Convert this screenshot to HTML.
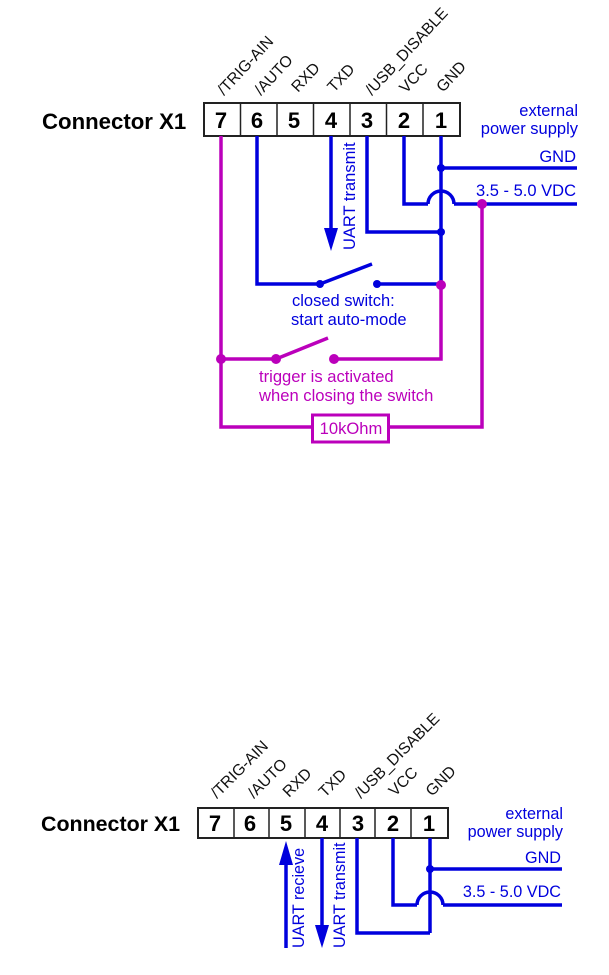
<!DOCTYPE html>
<html><head><meta charset="utf-8"><style>
html,body{margin:0;padding:0;background:#fff;width:609px;height:975px;overflow:hidden}
svg{display:block}
text{font-family:"Liberation Sans",sans-serif}
.b{fill:#0000dd;font-size:16.5px}
.bb{fill:#0000dd;font-size:16.2px}
.m{fill:#bb00bb;font-size:16.6px}
.k{fill:#111;font-size:15.8px}
.d{fill:#000;font-size:22px;font-weight:bold;text-anchor:middle}
.t{fill:#000;font-size:22.2px;font-weight:bold}
.t2{fill:#000;font-size:21.4px;font-weight:bold}
.wb{fill:none;stroke:#0000dd;stroke-width:3.5}
.wm{fill:none;stroke:#bb00bb;stroke-width:3.5}
</style></head><body>
<svg width="609" height="975" viewBox="0 0 609 975" xmlns="http://www.w3.org/2000/svg">
<!-- Top -->
<text class="t" x="42" y="129">Connector X1</text>
<rect x="204" y="103" width="256" height="33" fill="#fff" stroke="#222" stroke-width="2"/>
<path d="M240.500 103V136M277 103V136M313.500 103V136M350 103V136M386.500 103V136M423 103V136" stroke="#222" stroke-width="1.500"/>
<text class="d" x="221" y="128">7</text><text class="d" x="257" y="128">6</text><text class="d" x="294" y="128">5</text><text class="d" x="331" y="128">4</text><text class="d" x="367" y="128">3</text><text class="d" x="404" y="128">2</text><text class="d" x="441" y="128">1</text>
<text class="k" transform="translate(224,96) rotate(-47)">/TRIG-AIN</text>
<text class="k" transform="translate(261,96) rotate(-47)">/AUTO</text>
<text class="k" transform="translate(298,93) rotate(-47)">RXD</text>
<text class="k" transform="translate(334,93) rotate(-47)">TXD</text>
<text class="k" transform="translate(372,96) rotate(-47)">/USB_DISABLE</text>
<text class="k" transform="translate(406,94) rotate(-47)">VCC</text>
<text class="k" transform="translate(443,93) rotate(-47)">GND</text>
<text class="b" x="578" y="116" text-anchor="end">external</text>
<text class="b" x="578" y="134" text-anchor="end">power supply</text>
<text class="b" x="576" y="162" text-anchor="end">GND</text>
<text class="b" x="576" y="196" text-anchor="end">3.5 - 5.0 VDC</text>
<text class="b" transform="translate(355,250) rotate(-90)">UART transmit</text>
<text class="b" x="292" y="306">closed switch:</text>
<text class="b" x="291" y="325">start auto-mode</text>
<text class="m" x="259" y="382">trigger is activated</text>
<text class="m" x="259" y="401">when closing the switch</text>
<path class="wb" d="M441 136V285M441 168H577M257 136V284H320M320 284L372 264M377 284H441M367 136V232H441M404 136V204H428M428 204A13 13 0 0 1 454 204M454 204H577M331 136V232"/>
<path d="M324 228H338L331 251Z" fill="#0000dd"/>
<circle cx="441" cy="168" r="4" fill="#0000dd"/><circle cx="441" cy="232" r="4" fill="#0000dd"/><circle cx="320" cy="284" r="4" fill="#0000dd"/><circle cx="377" cy="284" r="4" fill="#0000dd"/>
<path class="wm" d="M221 136V427H312M389 427H482V204M221 359H276M276 359L328 338M334 359H441V285"/>
<rect x="312.500" y="415" width="76" height="27" fill="#fff" stroke="#bb00bb" stroke-width="3"/>
<text class="m" x="351" y="434" text-anchor="middle">10kOhm</text>
<circle cx="482" cy="204" r="5" fill="#bb00bb"/><circle cx="441" cy="285" r="5" fill="#bb00bb"/><circle cx="221" cy="359" r="5" fill="#bb00bb"/><circle cx="276" cy="359" r="5" fill="#bb00bb"/><circle cx="334" cy="359" r="5" fill="#bb00bb"/>
<!-- Bottom -->
<text class="t2" x="41" y="831">Connector X1</text>
<rect x="198" y="808" width="250" height="30" fill="#fff" stroke="#222" stroke-width="2"/>
<path d="M234 808V838M269 808V838M305 808V838M340 808V838M375 808V838M411 808V838" stroke="#222" stroke-width="1.500"/>
<text class="d" x="215" y="831">7</text><text class="d" x="250" y="831">6</text><text class="d" x="286" y="831">5</text><text class="d" x="322" y="831">4</text><text class="d" x="358" y="831">3</text><text class="d" x="393" y="831">2</text><text class="d" x="429" y="831">1</text>
<text class="k" transform="translate(217,799) rotate(-45)">/TRIG-AIN</text>
<text class="k" transform="translate(254,799) rotate(-45)">/AUTO</text>
<text class="k" transform="translate(289,798) rotate(-45)">RXD</text>
<text class="k" transform="translate(325,798) rotate(-45)">TXD</text>
<text class="k" transform="translate(361,799) rotate(-45)">/USB_DISABLE</text>
<text class="k" transform="translate(395,797) rotate(-45)">VCC</text>
<text class="k" transform="translate(432,797) rotate(-45)">GND</text>
<text class="bb" x="563" y="819" text-anchor="end">external</text>
<text class="bb" x="563" y="837" text-anchor="end">power supply</text>
<text class="bb" x="561" y="863" text-anchor="end">GND</text>
<text class="bb" x="561" y="897" text-anchor="end">3.5 - 5.0 VDC</text>
<text class="bb" transform="translate(304,948) rotate(-90)">UART recieve</text>
<text class="bb" transform="translate(345,948) rotate(-90)">UART transmit</text>
<path class="wb" d="M286 948V860M322 838V930M357 838V933H430M430 838V933M430 869H562M393 838V905H417M417 905A13 13 0 0 1 443 905M443 905H562"/>
<path d="M279 865H293L286 841Z" fill="#0000dd"/>
<path d="M315 925H329L322 948Z" fill="#0000dd"/>
<circle cx="430" cy="869" r="4" fill="#0000dd"/>
</svg>
</body></html>
